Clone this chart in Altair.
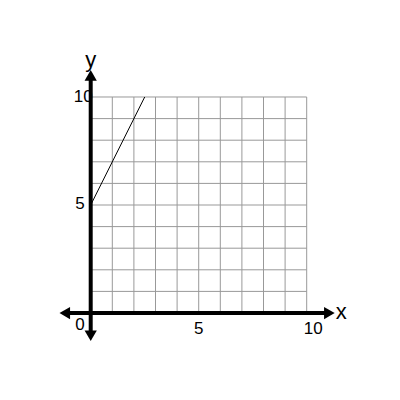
import altair as alt
import pandas as pd

grid_vals = [1, 2, 3, 4, 5, 6, 7, 8, 9, 10]
line_x = [0, 2.5]
line_y = [5, 10]
tick_text = ["0", "5", "10", "5", "10"]
tick_u = [-0.5, 5.0, 10.3, -0.5, -0.35]
tick_v = [-0.55, -0.74, -0.74, 5.05, 10.0]
axis_names = ["x", "y"]
axis_name_u = [11.6, 0.0]
axis_name_v = [0.05, 11.7]

XD = [-3.829, 13.949]
YD = [-3.657, 14.12]
xs = alt.Scale(domain=XD, nice=False, zero=False)
ys = alt.Scale(domain=YD, nice=False, zero=False)

vgrid = pd.DataFrame({"x": grid_vals, "y0": [0] * 10, "y1": [10] * 10})
hgrid = pd.DataFrame({"y": grid_vals, "x0": [0] * 10, "x1": [10] * 10})

g1 = alt.Chart(vgrid).mark_rule(color="#999999", strokeWidth=1).encode(
    x=alt.X("x:Q", scale=xs, axis=None), y=alt.Y("y0:Q", scale=ys, axis=None), y2="y1:Q")
g2 = alt.Chart(hgrid).mark_rule(color="#999999", strokeWidth=1).encode(
    y=alt.Y("y:Q", scale=ys, axis=None), x=alt.X("x0:Q", scale=xs, axis=None), x2="x1:Q")

axes = pd.DataFrame({"x0": [-1.2, 0], "x1": [11.05, 0], "y0": [0, -1.05], "y1": [0, 11.0]})
ax = alt.Chart(axes).mark_rule(color="black", strokeWidth=4).encode(
    x=alt.X("x0:Q", scale=xs, axis=None), x2="x1:Q",
    y=alt.Y("y0:Q", scale=ys, axis=None), y2="y1:Q")

arrows = pd.DataFrame({
    "x": [-1.2, 11.05, 0, 0],
    "y": [0, 0, 11.0, -1.05],
    "s": ["triangle-left", "triangle-right", "triangle-up", "triangle-down"],
})
arr = alt.Chart(arrows).mark_point(filled=True, color="black", opacity=1, size=150).encode(
    x=alt.X("x:Q", scale=xs, axis=None), y=alt.Y("y:Q", scale=ys, axis=None),
    shape=alt.Shape("s:N", scale=None))

ln = alt.Chart(pd.DataFrame({"x": line_x, "y": line_y})).mark_line(color="black", strokeWidth=1).encode(
    x=alt.X("x:Q", scale=xs, axis=None), y=alt.Y("y:Q", scale=ys, axis=None))

ticks = pd.DataFrame({"t": tick_text, "x": tick_u, "y": tick_v})
tx = alt.Chart(ticks).mark_text(font="Liberation Sans", fontSize=17, color="black",
                                align="center", baseline="middle").encode(
    x=alt.X("x:Q", scale=xs, axis=None), y=alt.Y("y:Q", scale=ys, axis=None), text="t:N")

names = pd.DataFrame({"t": axis_names, "x": axis_name_u, "y": axis_name_v})
nm = alt.Chart(names).mark_text(font="Liberation Sans", fontSize=22, color="black",
                                align="center", baseline="middle").encode(
    x=alt.X("x:Q", scale=xs, axis=None), y=alt.Y("y:Q", scale=ys, axis=None), text="t:N")

chart = alt.layer(g1, g2, ln, ax, arr, tx, nm).properties(
    width=384, height=384, autosize=alt.AutoSizeParams(type="none"), padding=0
).configure_view(stroke=None)

chart.save("out.html", embed_options={"renderer": "svg", "actions": False})
